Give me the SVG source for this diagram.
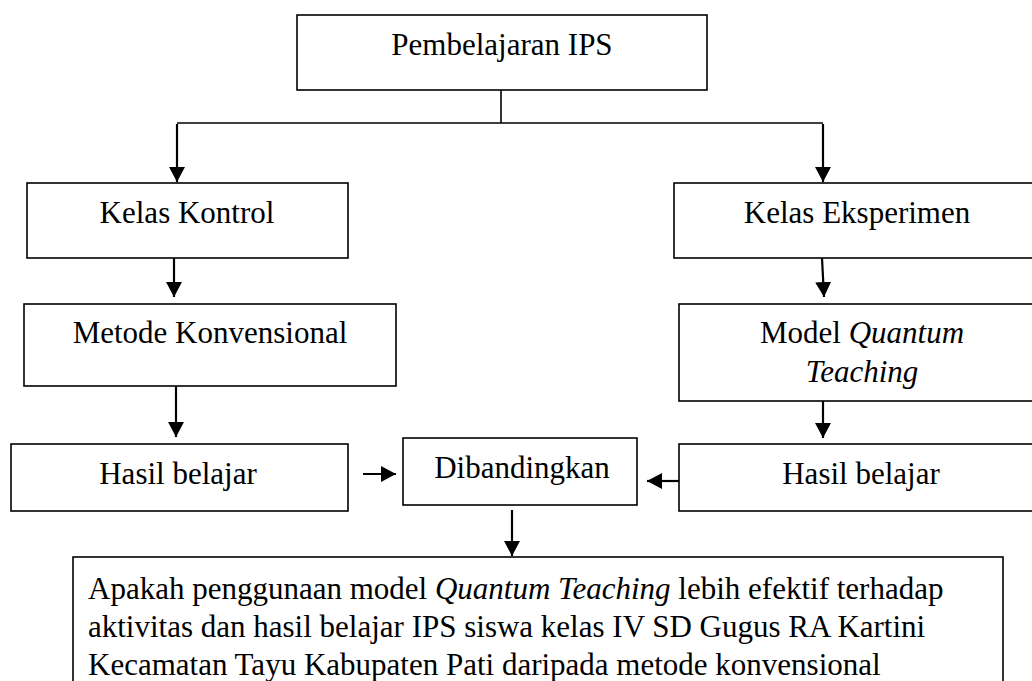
<svg xmlns="http://www.w3.org/2000/svg" width="1032" height="681" viewBox="0 0 1032 681">
  <defs>
    <marker id="ah" markerUnits="userSpaceOnUse" markerWidth="16" markerHeight="16" refX="15" refY="8" orient="auto">
      <path d="M0,0 L15,8 L0,16 z" fill="#000"/>
    </marker>
    <style>
      .box { fill: #fff; stroke: #000; stroke-width: 1.6; }
      .t { font-family: "Liberation Serif", "Times New Roman", serif; font-size: 31px; fill: #000; }
      .c { text-anchor: middle; }
      .i { font-style: italic; }
      .ln { fill: none; stroke: #000; stroke-width: 1.6; }
      .ar { fill: none; stroke: #000; stroke-width: 2.2; marker-end: url(#ah); }
    </style>
  </defs>
  <rect width="1032" height="681" fill="#fff"/>

  <g id="connectors">
    <line class="ln" x1="501" y1="90" x2="501" y2="123"/>
    <line class="ln" x1="177" y1="123" x2="823" y2="123"/>
    <line class="ar" x1="177" y1="124" x2="177" y2="182"/>
    <line class="ar" x1="823" y1="124" x2="823" y2="182"/>
    <line class="ar" x1="174" y1="258" x2="174" y2="297"/>
    <line class="ar" x1="822" y1="258" x2="824" y2="297"/>
    <line class="ar" x1="176" y1="386" x2="176" y2="437"/>
    <line class="ar" x1="823" y1="401" x2="823" y2="438"/>
    <line class="ar" x1="363" y1="474" x2="396" y2="474"/>
    <line class="ar" x1="679" y1="481" x2="647" y2="481"/>
    <line class="ar" x1="512" y1="510" x2="512" y2="556"/>
  </g>

  <g id="pembelajaran">
    <rect class="box" x="297" y="15" width="410" height="75"/>
    <text class="t c" x="502" y="55">Pembelajaran IPS</text>
  </g>
  <g id="kelas-kontrol">
    <rect class="box" x="27" y="183" width="321" height="75"/>
    <text class="t c" x="187" y="223">Kelas Kontrol</text>
  </g>
  <g id="metode-konvensional">
    <rect class="box" x="24" y="304" width="372" height="82"/>
    <text class="t c" x="210" y="343">Metode Konvensional</text>
  </g>
  <g id="hasil-kontrol">
    <rect class="box" x="11" y="444" width="337" height="67"/>
    <text class="t c" x="178" y="484">Hasil belajar</text>
  </g>
  <g id="dibandingkan">
    <rect class="box" x="403" y="438" width="234" height="67"/>
    <text class="t c" x="522" y="478">Dibandingkan</text>
  </g>
  <g id="kelas-eksperimen">
    <rect class="box" x="674" y="183" width="380" height="75"/>
    <text class="t c" x="857" y="223">Kelas Eksperimen</text>
  </g>
  <g id="model-quantum">
    <rect class="box" x="679" y="304" width="380" height="97"/>
    <text class="t c" x="862" y="343">Model <tspan class="i">Quantum</tspan></text>
    <text class="t c i" x="862" y="382">Teaching</text>
  </g>
  <g id="hasil-eksperimen">
    <rect class="box" x="679" y="444" width="380" height="67"/>
    <text class="t c" x="861" y="484">Hasil belajar</text>
  </g>
  <g id="kesimpulan">
    <rect class="box" x="73" y="557" width="930" height="150"/>
    <text class="t" x="88" y="599">Apakah penggunaan model <tspan class="i">Quantum Teaching</tspan> lebih efektif terhadap</text>
    <text class="t" x="88" y="637">aktivitas dan hasil belajar IPS siswa kelas IV SD Gugus RA Kartini</text>
    <text class="t" x="88" y="675">Kecamatan Tayu Kabupaten Pati daripada metode konvensional</text>
  </g>
</svg>
